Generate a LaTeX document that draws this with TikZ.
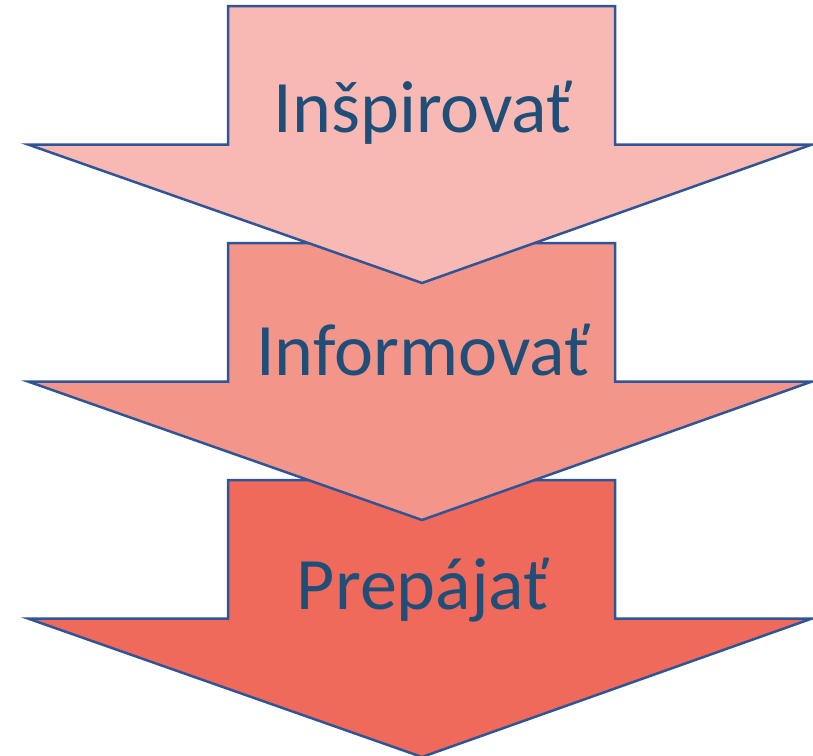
\documentclass[tikz,border=0pt]{standalone}
\usepackage{fontspec}
\setmainfont{Carlito}
\usepackage{tikz}
\usetikzlibrary{calc,positioning}
\definecolor{edgeblue}{HTML}{2F5597}
\definecolor{textblue}{HTML}{1F4E79}
\definecolor{pinkA}{HTML}{F8B9B4}
\definecolor{pinkB}{HTML}{F4958A}
\definecolor{pinkC}{HTML}{F06A5B}
\tikzstyle{downarrow} = [draw=edgeblue, line width=2.5pt, line join=miter]
\tikzstyle{label} = [text=textblue, font={\fontsize{74}{76}\selectfont}]

\begin{document}
\begin{tikzpicture}[x=1pt, y=-1pt]
      \useasboundingbox (0,0) rectangle (813,755);
      \clip (0,0) rectangle (813,755);
      % arrows drawn bottom first, so each tip lies over the next shaft
      \foreach \y/\col in {480/pinkC, 243/pinkB, 6/pinkA} {
        \path [downarrow, fill=\col]
          (228,\y) -- (615,\y) -- (615,\y+138.5) -- (812,\y+138.5)
          -- (422,\y+277) -- (28,\y+138.5) -- (228,\y+138.5) -- cycle;
      }
      \node [label] (inspire) at (423,113) {Inšpirovať};
      \node [label] (inform) at (423,350) {Informovať};
      \node [label] (connect) at (423,590) {Prepájať};
    \end{tikzpicture}
\end{document}
